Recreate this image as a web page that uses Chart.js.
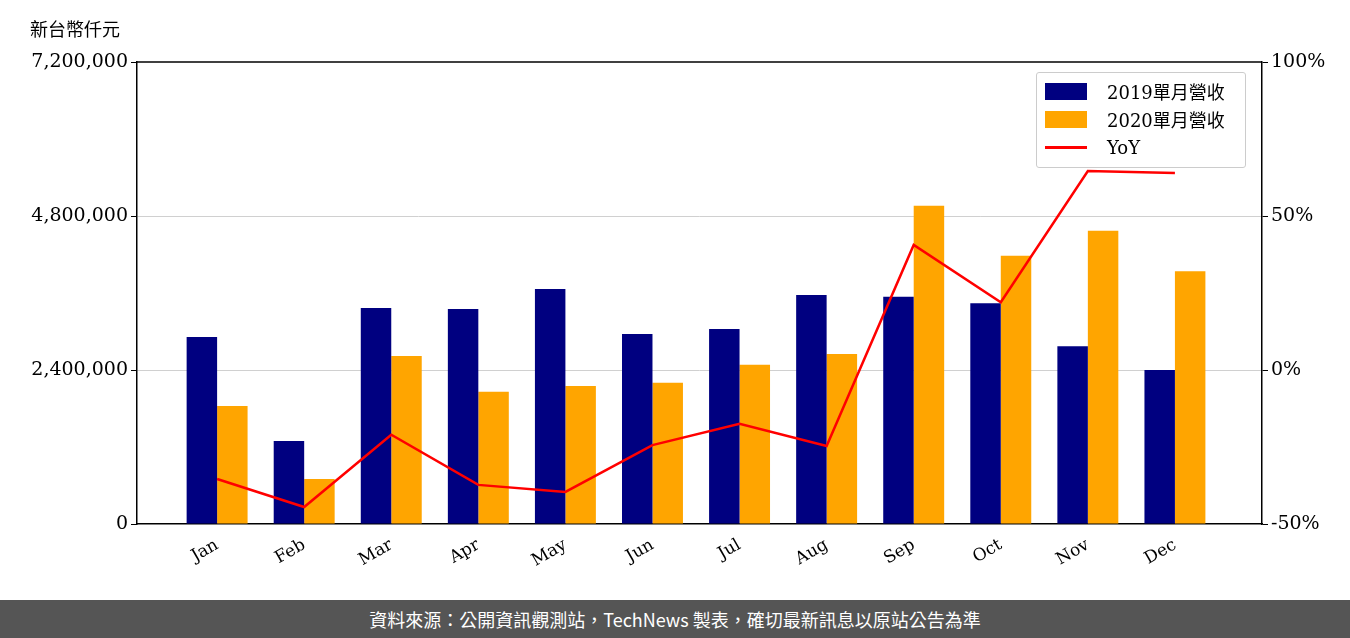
<!DOCTYPE html>
<html><head><meta charset="utf-8">
<script src="https://cdn.jsdelivr.net/npm/chart.js@4/dist/chart.umd.min.js"></script>
<style>
body{margin:0;width:1350px;height:638px;background:#fff;position:relative;overflow:hidden;font-family:"DejaVu Serif","Noto Sans CJK TC",serif}
#wrap{position:absolute;left:0;top:0;width:1350px;height:600px}
#unit{position:absolute;left:30px;top:15px;font-size:18px;font-family:"Noto Sans CJK TC",sans-serif;color:#000}
#legend{position:absolute;left:1036px;top:72px;width:208px;height:94px;border:1px solid #ccc;border-radius:3px;background:rgba(255,255,255,0.8);font-size:18px}
.row{position:absolute;left:8px;height:24px;display:flex;align-items:center}
.row span.sw{display:inline-block;width:42px;margin-right:20px}
.row span.t{font-family:"DejaVu Serif","Noto Sans CJK TC",serif}
#foot{position:absolute;left:0;top:600px;width:1350px;height:38px;background:#555;color:#fff;font-family:"Noto Sans CJK TC",sans-serif;font-size:18px;text-align:center;line-height:38px}
</style></head><body>
<div id="wrap"><canvas id="c" width="1350" height="600"></canvas></div>
<div id="unit">新台幣仟元</div>
<div id="legend">
<div class="row" style="top:6px"><span class="sw" style="height:17px;background:#000080"></span><span class="t">2019單月營收</span></div>
<div class="row" style="top:34px"><span class="sw" style="height:17px;background:#ffa500"></span><span class="t">2020單月營收</span></div>
<div class="row" style="top:62px"><span class="sw" style="height:3px;background:#ff0000"></span><span class="t">YoY</span></div>
</div>
<div id="foot">資料來源：公開資訊觀測站，TechNews 製表，確切最新訊息以原站公告為準</div>
<script>
var months = ['Jan','Feb','Mar','Apr','May','Jun','Jul','Aug','Sep','Oct','Nov','Dec'];
var rev2019 = [2914000,1293000,3366000,3350000,3662000,2960000,3040000,3570000,3540000,3440000,2770000,2400000];
var rev2020 = [1840000,700000,2620000,2060000,2150000,2200000,2480000,2650000,4960000,4180000,4570000,3940000];
var yoy = [-35.4,-44.5,-21,-37.3,-39.6,-24.4,-17.5,-24.7,40.6,22,64.6,64];
var leftTicks = [0,2400000,4800000,7200000];
var rightTicks = [-50,0,50,100];

function pts(arr) { return arr.map(function (v, i) { return {x: i, y: v}; }); }

var ctx = document.getElementById('c').getContext('2d');
new Chart(ctx, {
    type: 'bar',
    data: {
        datasets: [
            {type: 'line', data: pts(yoy), yAxisID: 'y1', borderColor: '#ff0000', borderWidth: 2.5, pointRadius: 0, tension: 0, order: 0},
            {data: pts(rev2019), backgroundColor: '#000080', yAxisID: 'y', categoryPercentage: 0.7, barPercentage: 1, order: 1},
            {data: pts(rev2020), backgroundColor: '#ffa500', yAxisID: 'y', categoryPercentage: 0.7, barPercentage: 1, order: 1}
        ]
    },
    options: {
        responsive: false,
        animation: false,
        layout: {padding: {top: 62, left: 0, right: 0, bottom: 0}},
        plugins: {legend: {display: false}, tooltip: {enabled: false}},
        scales: {
            x: {
                type: 'linear', min: -0.92, max: 12.0, offset: false,
                afterBuildTicks: function (s) { s.ticks = months.map(function (m, i) { return {value: i}; }); },
                grid: {display: false},
                border: {color: '#000', width: 1.5},
                ticks: {color: '#000', font: {family: 'DejaVu Serif', size: 17}, maxRotation: 30, minRotation: 30,
                    callback: function (v) { return months[v]; }},
                afterFit: function (s) { s.height = 76; }
            },
            y: {
                position: 'left', min: 0, max: 7200000,
                afterBuildTicks: function (s) { s.ticks = leftTicks.map(function (v) { return {value: v}; }); },
                grid: {color: function (c) { return (c.tick.value === 0 || c.tick.value === 7200000) ? 'rgba(0,0,0,0)' : '#d0d0d0'; }, tickColor: '#000', tickLength: 6},
                border: {color: '#000', width: 1.5},
                ticks: {color: '#000', font: {family: 'DejaVu Serif', size: 19}, callback: function (v) { return v.toLocaleString('en-US'); }},
                afterFit: function (s) { s.width = 137; }
            },
            y1: {
                position: 'right', min: -50, max: 100,
                afterBuildTicks: function (s) { s.ticks = rightTicks.map(function (v) { return {value: v}; }); },
                grid: {drawOnChartArea: false, tickColor: '#000', tickLength: 6},
                border: {color: '#000', width: 1.5},
                ticks: {color: '#000', font: {family: 'DejaVu Serif', size: 19}, callback: function (v) { return v + '%'; }},
                afterFit: function (s) { s.width = 88; }
            }
        }
    },
    plugins: [{
        id: 'topBorder',
        afterDraw: function (chart) {
            var a = chart.chartArea, c = chart.ctx;
            c.save(); c.strokeStyle = '#000'; c.lineWidth = 1.5;
            c.beginPath(); c.moveTo(a.left, a.top); c.lineTo(a.right, a.top); c.stroke();
            c.restore();
        }
    }]
});
</script>
</body></html>
